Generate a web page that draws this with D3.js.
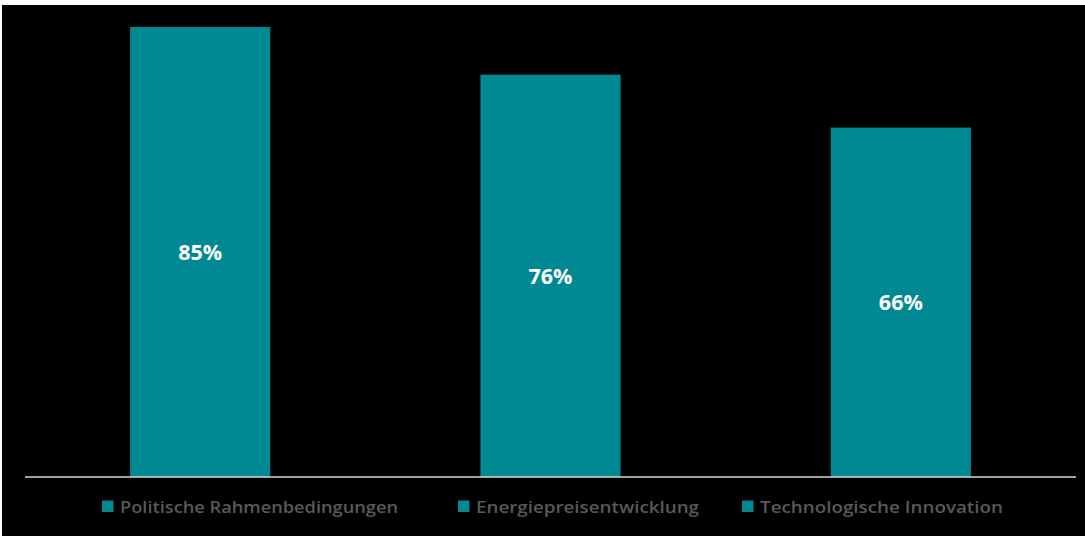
<!DOCTYPE html>
<html>
<head>
<meta charset="utf-8">
<script src="https://cdn.jsdelivr.net/npm/d3@7"></script>
<style>
  html, body { margin: 0; padding: 0; background: #ffffff; }
  svg { display: block; }
</style>
</head>
<body>
<svg id="chart" width="1085" height="536"></svg>
<script>
// Survey shares per driver (percent)
const categories = ["Politische Rahmenbedingungen", "Energiepreisentwicklung", "Technologische Innovation"];
const values = [85, 76, 66];
const valueLabels = ["85%", "76%", "66%"];

const W = 1085, H = 536;
const svg = d3.select("#chart");
const teal = "#008893";

// dark panel
svg.append("rect").attr("x", 2).attr("y", 5).attr("width", W - 2).attr("height", H - 5).attr("fill", "#000000");

const plot = { left: 25, right: 1076, top: 0.5, bottom: 477 };

const x = d3.scaleBand()
  .domain(categories)
  .range([plot.left, plot.right])
  .paddingInner(0.6)
  .paddingOuter(0.3);

const y = d3.scaleLinear()
  .domain([0, 90])
  .range([plot.bottom, plot.top]);

// bars
svg.append("g").selectAll("rect")
  .data(categories)
  .join("rect")
  .attr("x", d => x(d))
  .attr("width", x.bandwidth())
  .attr("y", (d, i) => y(values[i]))
  .attr("height", (d, i) => y(0) - y(values[i]))
  .attr("fill", teal);

// value labels in the middle of each bar
svg.append("g").selectAll("text")
  .data(categories)
  .join("text")
  .attr("x", d => x(d) + x.bandwidth() / 2)
  .attr("y", (d, i) => (y(values[i]) + y(0)) / 2)
  .attr("dy", "0.36em")
  .attr("text-anchor", "middle")
  .attr("font-family", "'Open Sans', 'Noto Sans', sans-serif")
  .attr("font-weight", "bold")
  .attr("font-size", 21.5)
  .attr("fill", "#ffffff")
  .text((d, i) => valueLabels[i]);

// baseline axis
const xAxis = svg.append("g")
  .attr("transform", `translate(0,${plot.bottom})`)
  .call(d3.axisBottom(x).tickSize(0).tickFormat(""));
xAxis.select(".domain")
  .attr("d", `M${plot.left},0H${plot.right}`)
  .attr("stroke", "#d9d9d9")
  .attr("stroke-width", 1.5);

// legend
const legendX = [102, 458, 742];
const legendW = [278, 223, 243];
const legend = svg.append("g").attr("transform", "translate(0,500)");
const item = legend.selectAll("g")
  .data(categories)
  .join("g")
  .attr("transform", (d, i) => `translate(${legendX[i]},0)`);
item.append("rect")
  .attr("x", 0).attr("y", 0.5)
  .attr("width", 11.5).attr("height", 11.5)
  .attr("fill", teal);
item.append("text")
  .attr("x", 18)
  .attr("y", 12.5)
  .attr("font-family", "'Open Sans', 'Noto Sans', sans-serif")
  .attr("font-weight", 600)
  .attr("font-size", 17)
  .attr("fill", "#595959")
  .attr("textLength", (d, i) => legendW[i])
  .attr("lengthAdjust", "spacingAndGlyphs")
  .text(d => d);
</script>
</body>
</html>
